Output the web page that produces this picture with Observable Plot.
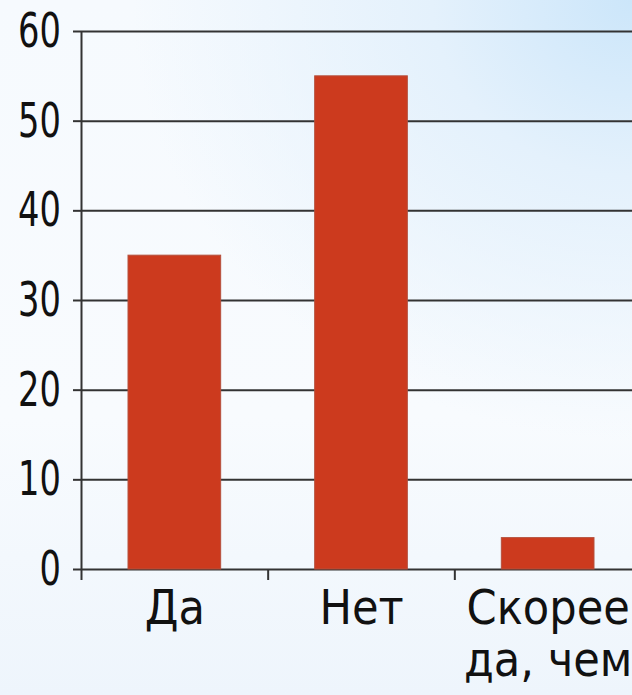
<!DOCTYPE html>
<html>
<head>
<meta charset="utf-8">
<script src="https://cdn.jsdelivr.net/npm/d3@7"></script>
<script src="https://cdn.jsdelivr.net/npm/@observablehq/plot@0.6"></script>
<style>
  html, body { margin: 0; padding: 0; width: 632px; height: 695px; overflow: hidden; }
  body {
    background:
      radial-gradient(ellipse 500px 440px at 100% 0%, #cce6fa 0%, #e4f1fc 40%, rgba(244,249,254,0) 100%),
      linear-gradient(to bottom, #f6fafe 0%, #f8fbfe 60%, #eef5fc 100%);
  }
</style>
</head>
<body>
<div id="chart"></div>
<script>
const categories = ["Да", "Нет", "Скорее\nда, чем"];
const values = [35, 55, 3.5];
const yTicks = [0, 10, 20, 30, 40, 50, 60];

const data = categories.map((c, i) => ({category: c, index: i, value: values[i]}));
const font = "'DejaVu Sans Condensed', 'DejaVu Sans', sans-serif";

const chart = Plot.plot({
  width: 632,
  height: 695,
  marginLeft: 81,
  marginTop: 31,
  marginBottom: 126,
  marginRight: 0,
  style: {background: "transparent", fontFamily: font, color: "#111", overflow: "hidden"},
  x: {type: "linear", domain: [0, categories.length], range: [81, 641], axis: null},
  y: {domain: [0, 60], axis: null},
  marks: [
    Plot.gridY(yTicks, {stroke: "#333", strokeOpacity: 1, strokeWidth: 2, x1: 0, x2: categories.length}),
    Plot.rectY(data, {
      x1: "index",
      x2: d => d.index + 1,
      y: "value",
      insetLeft: 47,
      insetRight: 47,
      fill: "#cc3a1e",
      stroke: "#b5503c",
      strokeWidth: 1
    }),
    Plot.ruleX([0], {y1: 0, y2: 60, stroke: "#333", strokeWidth: 2}),
    Plot.axisY({ticks: yTicks, label: null, tickSize: 8, tickPadding: 9, fontSize: 48, stroke: "#333", strokeWidth: 2, fill: "#111", fontFamily: font}),
    Plot.axisX({ticks: d3.range(0, categories.length + 1), label: null, tickSize: 11, tickFormat: () => "", stroke: "#333", strokeWidth: 2}),
    Plot.text(data, {
      x: d => d.index + 0.5,
      y: 0,
      text: "category",
      lineAnchor: "top",
      lineHeight: 1.08,
      dy: 18,
      fontSize: 48,
      fill: "#111",
      fontFamily: font
    })
  ]
});
document.getElementById("chart").appendChild(chart);

// Narrow the y tick digits around their right (anchor) edge to match the reference's narrow numerals
const svgRect = chart.getBoundingClientRect();
chart.querySelectorAll("g[aria-label='y-axis tick label'] text").forEach(t => {
  const r = t.getBoundingClientRect();
  const ax = r.right - svgRect.left;
  const g = document.createElementNS("http://www.w3.org/2000/svg", "g");
  g.setAttribute("transform", `translate(${ax},0) scale(0.78,1) translate(${-ax},0)`);
  t.parentNode.insertBefore(g, t);
  g.appendChild(t);
});
</script>
</body>
</html>
